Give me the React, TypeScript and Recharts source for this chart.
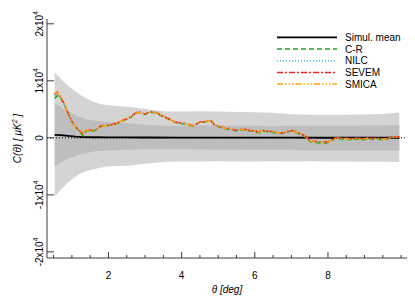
import React from 'react';
import { ComposedChart, Area, Line, XAxis, YAxis, ReferenceLine, Legend } from 'recharts';

const FONT = '"Liberation Sans", Arial, Helvetica, sans-serif';

const THETA = [
  0.53, 0.6, 0.7, 0.8, 0.9, 1.0, 1.1, 1.2, 1.3, 1.4, 1.5, 1.6, 1.7, 1.8, 1.9, 2.0,
  2.1, 2.2, 2.3, 2.4, 2.5, 2.6, 2.7, 2.8, 2.9, 3.0, 3.1, 3.2, 3.3, 3.4, 3.5, 3.6,
  3.7, 3.8, 3.9, 4.0, 4.1, 4.2, 4.3, 4.4, 4.5, 4.6, 4.7, 4.8, 4.9, 5.0, 5.1, 5.2,
  5.3, 5.4, 5.5, 5.6, 5.7, 5.8, 5.9, 6.0, 6.1, 6.2, 6.3, 6.4, 6.5, 6.6, 6.7, 6.8,
  6.9, 7.0, 7.1, 7.2, 7.3, 7.4, 7.5, 7.6, 7.7, 7.8, 7.9, 8.0, 8.1, 8.2, 8.3, 8.4,
  8.5, 8.6, 8.7, 8.8, 8.9, 9.0, 9.1, 9.2, 9.3, 9.4, 9.5, 9.6, 9.7, 9.8, 9.9, 9.95,
];

const CR = [
  6900, 7400, 6900, 5700, 4250, 2850, 1900, 1200, 350, 1250, 1250, 1200, 1550, 2050, 2100, 2150,
  2250, 2450, 2700, 3000, 3250, 3550, 4050, 4450, 4300, 4100, 4400, 4450, 4350, 4000, 3700, 3400,
  3100, 2750, 2600, 2500, 2400, 2250, 2000, 2350, 2700, 2750, 2850, 2900, 2200, 1950, 1800, 1550,
  1500, 1350, 1200, 1350, 1450, 1300, 1200, 1100, 850, 1150, 1150, 1000, 950, 850, 750, 800,
  1050, 1200, 1000, 700, 450, 50, -600, -800, -850, -900, -900, -850, -450, -150, -150, -300,
  -200, -350, -250, -150, -350, -300, -150, -300, -200, -250, -350, -250, -50, 50, 150, 0,
];

const NILC = [
  7300, 7900, 7000, 5750, 4300, 2900, 1950, 1300, 600, 1350, 1300, 1250, 1600, 2100, 2100, 2150,
  2300, 2500, 2750, 3050, 3300, 3600, 4100, 4500, 4350, 4150, 4450, 4500, 4400, 4100, 3750, 3450,
  3150, 2800, 2650, 2550, 2450, 2300, 2100, 2400, 2750, 2800, 2900, 2950, 2250, 2000, 1850, 1600,
  1580, 1400, 1280, 1400, 1520, 1380, 1280, 1200, 950, 1250, 1230, 1100, 1050, 930, 850, 850,
  1100, 1280, 1100, 800, 550, 150, -500, -640, -700, -760, -800, -760, -400, -80, -60, -170,
  -100, -230, -170, -60, -230, -170, -80, -170, -120, -150, -230, -170, 0, 120, 250, 80,
];

const SEVEM = [
  7600, 8050, 7100, 5800, 4300, 2900, 1950, 1350, 700, 1400, 1350, 1300, 1600, 2150, 2150, 2200,
  2350, 2550, 2800, 3100, 3350, 3650, 4150, 4600, 4400, 4200, 4500, 4550, 4450, 4150, 3800, 3500,
  3200, 2850, 2700, 2600, 2500, 2350, 2150, 2450, 2800, 2850, 2950, 3000, 2300, 2050, 1900, 1650,
  1650, 1450, 1350, 1450, 1550, 1400, 1300, 1250, 1000, 1300, 1250, 1150, 1100, 980, 900, 900,
  1150, 1300, 1150, 850, 600, 200, -450, -600, -650, -720, -750, -700, -350, -30, 0, -100,
  -50, -150, -100, 0, -150, -100, -30, -100, -50, -80, -150, -100, 50, 150, 250, 100,
];

const SMICA = [
  7800, 8000, 7100, 5800, 4300, 2900, 1950, 1300, 650, 1350, 1300, 1250, 1600, 2100, 2100, 2150,
  2300, 2500, 2750, 3050, 3300, 3600, 4100, 4500, 4350, 4150, 4450, 4500, 4400, 4100, 3750, 3450,
  3150, 2800, 2650, 2550, 2450, 2300, 2100, 2400, 2750, 2800, 2900, 2950, 2250, 2000, 1850, 1600,
  1580, 1400, 1280, 1400, 1520, 1380, 1280, 1200, 950, 1250, 1230, 1100, 1050, 930, 850, 850,
  1100, 1280, 1100, 800, 550, 150, -500, -640, -700, -760, -800, -760, -400, -80, -60, -170,
  -100, -230, -170, -60, -230, -170, -80, -170, -120, -150, -230, -170, 0, 120, 230, 60,
];

const BAND_THETA = [
  0.53, 0.6, 0.7, 0.8, 0.9, 1.0, 1.2, 1.4, 1.6, 1.8, 2.0, 2.3, 2.6, 3.0, 3.3,
  3.6, 4.0, 4.5, 5.0, 5.5, 6.0, 6.5, 7.0, 7.5, 8.0, 8.5, 9.0, 9.5, 9.95,
];
const OUTER_HI = [
  11400, 11000, 10300, 9700, 9100, 8600, 7700, 6900, 6300, 5900, 5700, 5550, 5400, 5050, 4800,
  4600, 4600, 4650, 4600, 4550, 4500, 4400, 4150, 4050, 4000, 4050, 4100, 4200, 4450,
];
const OUTER_LO = [
  -10300, -9800, -9000, -8400, -7800, -7300, -6400, -5800, -5500, -5200, -5000, -4950, -4850, -4550, -4350,
  -4200, -4150, -4150, -4100, -4150, -4150, -4100, -4150, -4100, -4150, -4150, -4200, -4200, -4250,
];
const INNER_HI = [
  6100, 5800, 5400, 5000, 4650, 4300, 3700, 3250, 3050, 2900, 2800, 2650, 2500, 2300, 2200,
  2100, 2100, 2150, 2150, 2100, 2100, 2050, 2100, 2100, 2100, 2100, 2150, 2150, 2200,
];
const INNER_LO = [
  -5000, -4700, -4300, -3900, -3650, -3400, -2950, -2650, -2400, -2250, -2200, -2150, -2100, -2000, -2000,
  -2000, -2000, -2050, -2100, -2100, -2150, -2150, -2150, -2200, -2200, -2200, -2200, -2200, -2200,
];

const MEAN_THETA = [0.53, 0.7, 0.9, 1.1, 1.3, 1.6, 2.0, 2.5, 3.0, 4.0, 5.0, 6.0, 7.0, 8.0, 9.0, 9.95];
const MEAN = [520, 470, 360, 230, 150, 100, 80, 70, 60, 50, 40, 30, 30, 20, 20, 20];

const X_TICKS = [0.5, 1, 1.5, 2, 2.5, 3, 3.5, 4, 4.5, 5, 5.5, 6, 6.5, 7, 7.5, 8, 8.5, 9, 9.5, 10];
const X_LABELED = [2, 4, 6, 8];
const Y_TICKS = [-20000, -10000, 0, 10000, 20000];
const X_DOMAIN = [0.32, 10.16];
const Y_DOMAIN = [-21070, 20840];

const SERIES = [
  { name: 'Simul. mean', color: '#000000', dash: undefined as string | undefined, width: 1.8 },
  { name: 'C-R', color: '#22a022', dash: '5 3', width: 1.5 },
  { name: 'NILC', color: '#33bbee', dash: '1 2', width: 1.5 },
  { name: 'SEVEM', color: '#ff2020', dash: '6 2 2 2', width: 1.5 },
  { name: 'SMICA', color: '#ffa500', dash: '6 2 1.5 2 1.5 2 1.5 2', width: 1.5 },
];

const outerData = BAND_THETA.map((t, i) => ({ t, r: [OUTER_LO[i], OUTER_HI[i]] }));
const innerData = BAND_THETA.map((t, i) => ({ t, r: [INNER_LO[i], INNER_HI[i]] }));
const meanData = MEAN_THETA.map((t, i) => ({ t, v: MEAN[i] }));
const mapData = [CR, NILC, SEVEM, SMICA].map((arr) => THETA.map((t, i) => ({ t, v: arr[i] })));

const AXIS_COLOR = '#3a3a3a';

const BottomTick = (props: any) => {
  const { x, y, payload } = props;
  const major = X_LABELED.includes(payload.value);
  return (
    <g>
      <line x1={x} y1={y} x2={x} y2={y - (major ? 6 : 3)} stroke={AXIS_COLOR} />
      {major && (
        <text x={x} y={y + 21} textAnchor="middle" fontSize={10} fontFamily={FONT} fill="#000">
          {payload.value}
        </text>
      )}
    </g>
  );
};

const TopTick = (props: any) => {
  const { x, y, payload } = props;
  const major = X_LABELED.includes(payload.value);
  return <line x1={x} y1={y} x2={x} y2={y + (major ? 6 : 3)} stroke={AXIS_COLOR} />;
};

const LeftTick = (props: any) => {
  const { x, y, payload } = props;
  const v = payload.value as number;
  const lx = x - 4;
  return (
    <g>
      <line x1={x} y1={y} x2={x + 7} y2={y} stroke={AXIS_COLOR} />
      <text
        x={lx}
        y={y}
        transform={`rotate(-90 ${lx} ${y})`}
        textAnchor="middle"
        fontSize={10}
        fontFamily={FONT}
        fill="#000"
      >
        {v === 0 ? (
          '0'
        ) : (
          <>
            {`${v / 10000}x10`}
            <tspan dy={-5} fontSize={7}>
              4
            </tspan>
          </>
        )}
      </text>
    </g>
  );
};

const RightTick = (props: any) => {
  const { x, y } = props;
  return <line x1={x} y1={y} x2={x - 7} y2={y} stroke={AXIS_COLOR} />;
};

const XTitle = (props: any) => {
  const vb = props.viewBox;
  return (
    <text
      x={vb.x + vb.width / 2}
      y={vb.y + 35}
      textAnchor="middle"
      fontSize={10}
      fontStyle="italic"
      fontFamily={FONT}
      fill="#000"
    >
      {'\u03b8  [deg]'}
    </text>
  );
};

const YTitle = (props: any) => {
  const vb = props.viewBox;
  const x = vb.x + 21;
  const y = vb.y + vb.height / 2;
  return (
    <text
      x={x}
      y={y}
      transform={`rotate(-90 ${x} ${y})`}
      textAnchor="middle"
      fontSize={10}
      fontStyle="italic"
      fontFamily={FONT}
      fill="#000"
    >
      {'C(\u03b8)  [ \u03bcK'}
      <tspan dy={-4} fontSize={7}>
        2
      </tspan>
      <tspan dy={4}>{' ]'}</tspan>
    </text>
  );
};

const LegendContent = () => (
  <svg width={140} height={62} style={{ display: 'block' }}>
    {SERIES.map((s, i) => {
      const y = 7.3 + i * 11.7;
      return (
        <g key={s.name}>
          <line x1={5} y1={y} x2={65} y2={y} stroke={s.color} strokeWidth={s.width} strokeDasharray={s.dash} />
          <text x={73} y={y + 3.6} fontSize={10} fontFamily={FONT} fill="#000">
            {s.name}
          </text>
        </g>
      );
    })}
  </svg>
);

export default function App() {
  return (
    <div style={{ position: 'fixed', left: 0, top: 0, width: 415, height: 297, background: '#fff' }}>
      <ComposedChart
        width={415}
        height={297}
        margin={{ top: 19, right: 8, bottom: 0, left: 0 }}
        style={{ fontFamily: FONT }}
      >
        <XAxis
          xAxisId={0}
          dataKey="t"
          type="number"
          domain={X_DOMAIN}
          allowDataOverflow
          ticks={X_TICKS}
          interval={0}
          height={39}
          tickSize={0}
          tickMargin={0}
          tickLine={false}
          axisLine={{ stroke: AXIS_COLOR }}
          tick={<BottomTick />}
          label={<XTitle />}
        />
        <XAxis
          xAxisId="top"
          orientation="top"
          dataKey="t"
          type="number"
          domain={X_DOMAIN}
          allowDataOverflow
          ticks={X_TICKS}
          interval={0}
          height={0}
          tickSize={0}
          tickMargin={0}
          tickLine={false}
          axisLine={{ stroke: AXIS_COLOR }}
          tick={<TopTick />}
        />
        <YAxis
          yAxisId={0}
          type="number"
          domain={Y_DOMAIN}
          allowDataOverflow
          ticks={Y_TICKS}
          interval={0}
          width={47}
          tickSize={0}
          tickMargin={0}
          tickLine={false}
          axisLine={{ stroke: AXIS_COLOR }}
          tick={<LeftTick />}
          label={<YTitle />}
        />
        <YAxis
          yAxisId="right"
          orientation="right"
          type="number"
          domain={Y_DOMAIN}
          allowDataOverflow
          ticks={Y_TICKS}
          interval={0}
          width={0}
          tickSize={0}
          tickMargin={0}
          tickLine={false}
          axisLine={{ stroke: AXIS_COLOR }}
          tick={<RightTick />}
        />
        <Area
          data={outerData}
          dataKey="r"
          type="linear"
          stroke="none"
          fill="#d4d4d4"
          fillOpacity={1}
          isAnimationActive={false}
          activeDot={false}
        />
        <Area
          data={innerData}
          dataKey="r"
          type="linear"
          stroke="none"
          fill="#bebebe"
          fillOpacity={1}
          isAnimationActive={false}
          activeDot={false}
        />
        <ReferenceLine y={0} stroke="#000" strokeDasharray="1 2" strokeWidth={1} />
        <Line
          data={meanData}
          dataKey="v"
          type="linear"
          stroke={SERIES[0].color}
          strokeWidth={SERIES[0].width}
          dot={false}
          activeDot={false}
          isAnimationActive={false}
        />
        {mapData.map((d, i) => {
          const s = SERIES[i + 1];
          return (
            <Line
              key={s.name}
              data={d}
              dataKey="v"
              type="linear"
              stroke={s.color}
              strokeWidth={s.width}
              strokeDasharray={s.dash}
              dot={false}
              activeDot={false}
              isAnimationActive={false}
            />
          );
        })}
        <Legend
          layout="horizontal"
          verticalAlign="middle"
          align="center"
          content={<LegendContent />}
          wrapperStyle={{ position: 'absolute', left: 272, top: 30, width: 140, height: 62 }}
        />
      </ComposedChart>
    </div>
  );
}
